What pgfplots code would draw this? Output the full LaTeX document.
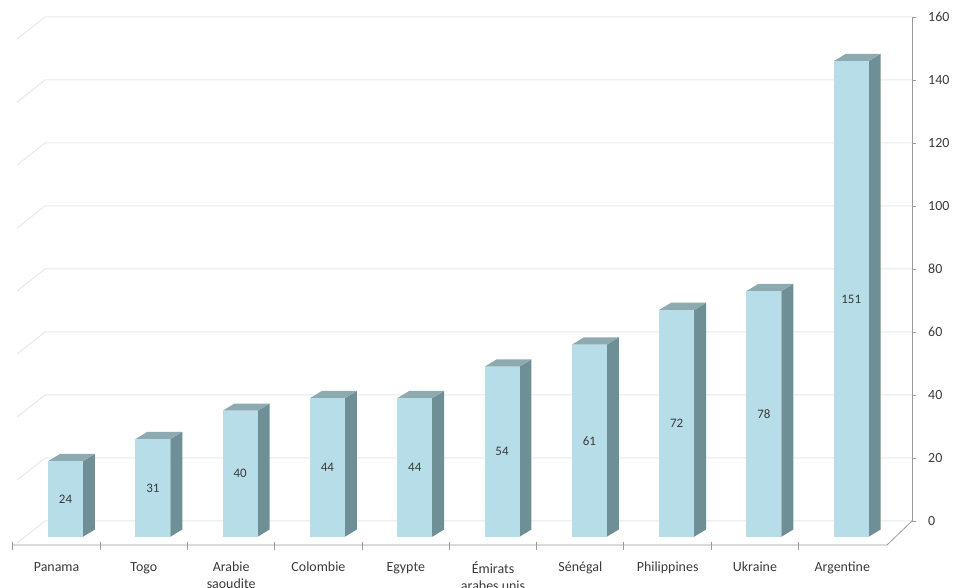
\documentclass[border=0pt]{standalone}
\usepackage{pgfplots}
\pgfplotsset{compat=1.18}
\usepackage{pgfplotstable}
\usepackage{fontspec}
\setmainfont{Carlito}

\definecolor{barfront}{HTML}{B7DEE8}
\definecolor{barside}{HTML}{6F8F97}
\definecolor{bartop}{HTML}{8EAAB1}
\definecolor{gridc}{HTML}{E8E8E8}
\definecolor{axisc}{HTML}{9A9A9A}
\definecolor{txt}{HTML}{3A3A3A}

% value of each country (index = position on the floor)
\pgfplotstableread{
idx v
0 24
1 31
2 40
3 44
4 44
5 54
6 61
7 72
8 78
9 151
}\data

% 3D look: half width of the front face, depth offsets, front baseline
\def\hw{0.2}
\def\ddx{0.137}
\def\ddy{2.3}
\def\fb{-5}

\begin{document}
\begin{tikzpicture}
\begin{axis}[
  scale only axis,
  width=912bp, height=504bp,
  at={(0bp,67bp)}, anchor=south west,
  xmin=-0.751, xmax=9.696,
  ymin=0, ymax=160,
  clip=false,
  axis y line*=right,
  axis x line*=bottom,
  x axis line style={draw=none},
  y axis line style={draw=axisc, line width=0.8bp},
  ytick={0,20,...,160},
  ytick pos=right,
  major y tick style={draw=axisc, line width=0.8bp},
  tick align=outside,
  major tick length=4bp,
  yticklabel style={anchor=west, inner sep=0pt, xshift=12bp, font=\fontsize{14}{16}\selectfont, text=txt},
  /pgf/number format/assume math mode=true,
  xtick={0,...,9},
  major x tick style={draw=none},
  xticklabels={Panama, Togo, Arabie\\saoudite, Colombie, Egypte, Émirats\\arabes unis, Sénégal, Philippines, Ukraine, Argentine},
  xticklabel style={align=center, anchor=north, inner sep=0pt, yshift=-37bp, xshift=-9bp, font=\fontsize{14}{17}\selectfont, text=txt},
]

% back wall grid with the slanted part on the side wall
\pgfplotsinvokeforeach{0,20,...,160}{
  \draw[gridc, line width=1bp] (axis cs:-0.556,#1-7) -- (axis cs:-0.235,#1) -- (axis cs:9.696,#1);
}

% floor front edge, its ticks and right edge
\draw[axisc, line width=0.8bp] (axis cs:-0.613,-7.6) -- (axis cs:9.41,-7.6) -- (axis cs:9.696,0);
\pgfplotsinvokeforeach{-0.613,0.395,1.395,2.395,3.395,4.395,5.395,6.395,7.395,8.395}{
  \draw[axisc, line width=0.8bp] (axis cs:#1,-6.6) -- (axis cs:#1,-9.2);
}

% bars: side face, top face, front face
\pgfplotsinvokeforeach{0,...,9}{
  \pgfplotstablegetelem{#1}{v}\of\data
  \pgfmathsetmacro\vv{\pgfplotsretval}
  \pgfmathsetmacro\xl{#1-\hw}
  \pgfmathsetmacro\xr{#1+\hw}
  \pgfmathsetmacro\xlb{#1-\hw+\ddx}
  \pgfmathsetmacro\xrb{#1+\hw+\ddx}
  \pgfmathsetmacro\yt{\vv+\fb}
  \pgfmathsetmacro\ytb{\vv+\fb+\ddy}
  \pgfmathsetmacro\ybb{\fb+\ddy}
  \addplot[fill=barside, draw=none] coordinates {(\xr,\fb) (\xrb,\ybb) (\xrb,\ytb) (\xr,\yt)} --cycle;
  \addplot[fill=bartop, draw=none] coordinates {(\xl,\yt) (\xlb,\ytb) (\xrb,\ytb) (\xr,\yt)} --cycle;
  \addplot[fill=barfront, draw=none] coordinates {(\xl,\fb) (\xr,\fb) (\xr,\yt) (\xl,\yt)} --cycle;
}

% value labels in the middle of each front face
\addplot[only marks, mark=none, nodes near coords, point meta=explicit,
  nodes near coords align={center},
  every node near coord/.append style={font=\fontsize{13}{15}\selectfont, text=txt, anchor=center}]
  table[x=idx, y expr=\thisrow{v}/2+\fb, meta=v] {\data};
\end{axis}
\pgfresetboundingbox
\path (0bp,0bp) rectangle (956bp,588bp);
\end{tikzpicture}
\end{document}
